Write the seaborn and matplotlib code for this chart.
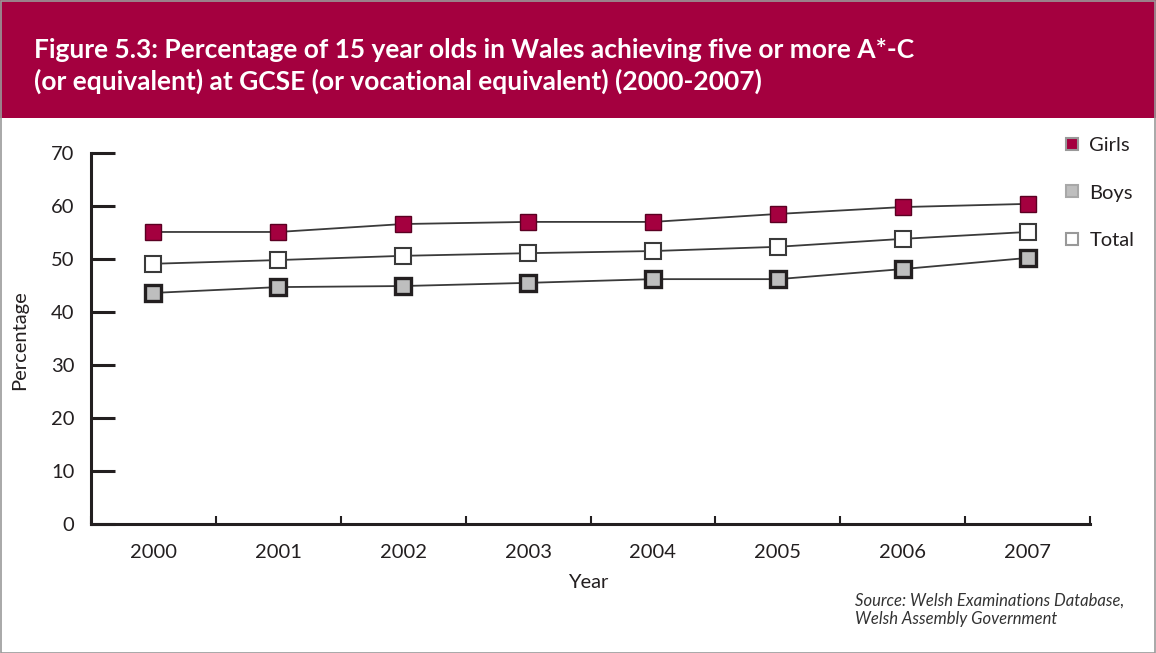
import matplotlib
matplotlib.use("Agg")
import matplotlib.pyplot as plt
from matplotlib.lines import Line2D
from matplotlib.patches import Rectangle
import numpy as np
import pandas as pd
import seaborn as sns

years = ["2000", "2001", "2002", "2003", "2004", "2005", "2006", "2007"]
girls = [55.1, 55.1, 56.6, 57.0, 57.0, 58.5, 59.8, 60.4]
boys = [43.6, 44.7, 44.9, 45.5, 46.2, 46.2, 48.1, 50.2]
total = [49.1, 49.8, 50.6, 51.1, 51.5, 52.3, 53.8, 55.1]
y_ticks = [0, 10, 20, 30, 40, 50, 60, 70]

title = ("Figure 5.3: Percentage of 15 year olds in Wales achieving five or more A*-C\n"
         "(or equivalent) at GCSE (or vocational equivalent) (2000-2007)")
source = "Source: Welsh Examinations Database,\nWelsh Assembly Government"

CRIMSON = "#A4003F"
GREY = "#BEBEBE"
DARK = "#231F20"

sns.set_theme(style="white")
plt.rcParams["font.family"] = ["Lato", "DejaVu Sans"]

df = pd.DataFrame({"pos": np.arange(len(years)), "Girls": girls, "Boys": boys, "Total": total})

fig = plt.figure(figsize=(11.56, 6.53), dpi=100)
fig.patch.set_facecolor("white")

# title banner
fig.patches.append(Rectangle((0, 1 - 118 / 653), 1, 118 / 653, transform=fig.transFigure,
                             facecolor=CRIMSON, edgecolor="none", zorder=0))
fig.text(34 / 1156, 1 - 66 / 653, title, color="white", fontsize=19, fontweight="bold",
         va="center", ha="left", linespacing=1.27)
# outer frame
fig.patches.append(Rectangle((0.5 / 1156, 0.5 / 653), 1 - 1.5 / 1156, 1 - 1.5 / 653,
                             transform=fig.transFigure, facecolor="none",
                             edgecolor="#9A9A9A", linewidth=1.2, zorder=5))

ax = fig.add_axes([91 / 1156, 1 - 524 / 653, (1090 - 91) / 1156, (524 - 153) / 653])

styles = {
    "Girls": dict(mfc=CRIMSON, mec="#5A0022", mew=1.0, ms=12),
    "Total": dict(mfc="white", mec="#3A3A3A", mew=1.5, ms=11.5),
    "Boys": dict(mfc=GREY, mec=DARK, mew=2.4, ms=11.5),
}
for name in ["Girls", "Total", "Boys"]:
    st = styles[name]
    sns.lineplot(data=df, x="pos", y=name, ax=ax, color="#3A3A3A", linewidth=1.3,
                 marker="s", markersize=st["ms"], markerfacecolor=st["mfc"],
                 markeredgecolor=st["mec"], markeredgewidth=st["mew"], zorder=3)

ax.set_xlim(-0.5, len(years) - 0.5)
ax.set_ylim(0, 70)
for s in ["top", "right"]:
    ax.spines[s].set_visible(False)
for s in ["left", "bottom"]:
    ax.spines[s].set_color(DARK)
    ax.spines[s].set_linewidth(2.2)

ax.set_yticks(y_ticks)
ax.set_yticklabels([str(v) for v in y_ticks], fontsize=14.5, color=DARK)
ax.tick_params(axis="y", left=True, direction="in", length=17, width=2.2, color=DARK, pad=12)

ax.set_xticks(np.arange(len(years) + 1) - 0.5)
ax.set_xticklabels([])
ax.tick_params(axis="x", bottom=True, direction="in", length=6, width=1.5, color=DARK)
for i, yr in enumerate(years):
    ax.text(i, -3.8, yr, ha="center", va="top", fontsize=14.5, color=DARK)

ax.set_xlabel("")
ax.set_ylabel("")
fig.text(588 / 1156, 1 - 582 / 653, "Year", ha="center", va="center", fontsize=14.5, color=DARK)
fig.text(20 / 1156, 1 - 340 / 653, "Percentage", ha="center", va="center", rotation=90,
         fontsize=14.5, color=DARK)

fig.text(855 / 1156, 1 - 610 / 653, source, ha="left", va="center", fontsize=12,
         style="italic", color="#333333", linespacing=1.2)

handles = [
    Line2D([], [], linestyle="none", marker="s", ms=8.5, mfc=CRIMSON, mec="#999999", mew=1.5),
    Line2D([], [], linestyle="none", marker="s", ms=8.5, mfc=GREY, mec="#A8A8A8", mew=1.5),
    Line2D([], [], linestyle="none", marker="s", ms=8.5, mfc="white", mec="#999999", mew=1.5),
]
leg = fig.legend(handles, ["Girls", "Boys", "Total"], loc="upper left",
                 bbox_to_anchor=(1046 / 1156, 1 - 119 / 653), frameon=False,
                 fontsize=14.5, labelspacing=1.5, handlelength=0.8, handletextpad=0.45)
for t in leg.get_texts():
    t.set_color(DARK)

fig.savefig("out.png", dpi=100, facecolor="white")
